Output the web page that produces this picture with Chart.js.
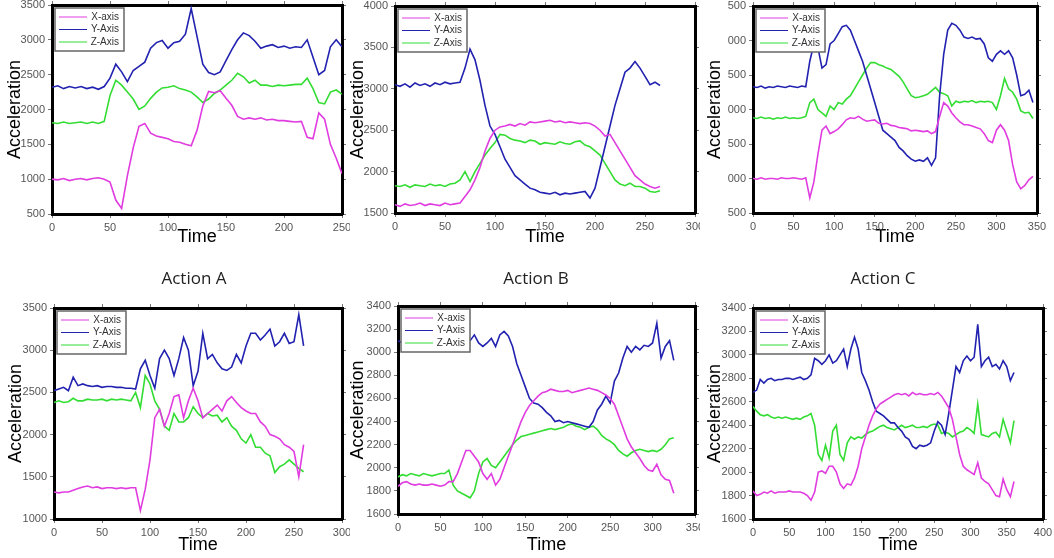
<!DOCTYPE html>
<html>
<head>
<meta charset="utf-8">
<script src="https://cdn.jsdelivr.net/npm/chart.js@4.4.1/dist/chart.umd.min.js"></script>
<style>
	body { margin: 0; background: #fff; width: 1054px; height: 558px; position: relative; overflow: hidden; }
	.panel { position: absolute; }
	.cap { position: absolute; font: 17px "Open Sans", sans-serif; color: #222; transform: translateX(-50%); white-space: nowrap; }
</style>
</head>
<body>
<div class="panel" id="p1"><canvas></canvas></div>
<div class="panel" id="p2"><canvas></canvas></div>
<div class="panel" id="p3"><canvas></canvas></div>
<div class="panel" id="p4"><canvas></canvas></div>
<div class="panel" id="p5"><canvas></canvas></div>
<div class="panel" id="p6"><canvas></canvas></div>
<div class="cap" style="left:194px;top:266px">Action A</div>
<div class="cap" style="left:536px;top:266px">Action B</div>
<div class="cap" style="left:883px;top:266px">Action C</div>
<script>
const TIME = [0,5,10,15,20,25,30,35,40,45,50,55,60,65,70,75,80,85,90,95,100,105,110,115,120,125,130,135,140,145,150,155,160,165,170,175,180,185,190,195,200,205,210,215,220,225,230,235,240,245,250,255,260,265,270,275,280,285,290,295,300,305,310,315,320,325,330,335,340,345,350,355,360];
const LABELS = ["X-axis", "Y-Axis", "Z-Axis"];
const COLORS = ["#e03ce0", "#2222b0", "#33dd33"];

// top row
const topA_X = [1000,990,1010,980,1000,1010,990,1010,1020,1000,960,700,580,1050,1450,1760,1800,1660,1620,1600,1580,1540,1530,1500,1480,1700,2050,2260,2240,2270,2160,2060,1900,1860,1880,1860,1880,1850,1860,1840,1840,1830,1820,1830,1600,1580,1950,1860,1500,1300,1080];
const topA_Y = [2320,2340,2300,2330,2310,2330,2300,2320,2290,2330,2450,2650,2540,2400,2560,2620,2680,2880,2960,2990,2880,2960,2980,3080,3450,3050,2650,2530,2500,2540,2700,2860,3000,3100,3060,2980,2880,2910,2930,2890,2910,2880,2900,2890,3000,2750,2500,2560,2900,3000,2900];
const topA_Z = [1810,1800,1820,1800,1810,1820,1800,1820,1800,1830,2200,2420,2350,2250,2150,2000,2050,2160,2250,2310,2320,2340,2300,2280,2250,2180,2100,2150,2230,2280,2350,2420,2520,2470,2380,2420,2350,2350,2330,2350,2340,2350,2360,2360,2450,2300,2100,2080,2250,2280,2220];

const topB_X = [1600,1580,1610,1590,1600,1620,1590,1610,1600,1590,1620,1600,1610,1620,1700,1780,1900,2050,2250,2400,2500,2540,2550,2570,2550,2580,2560,2600,2590,2600,2610,2620,2600,2610,2590,2600,2590,2580,2590,2580,2550,2500,2430,2450,2350,2250,2150,2050,1950,1900,1850,1820,1800,1820];
const topB_Y = [3050,3030,3060,3020,3070,3040,3060,3030,3070,3050,3080,3060,3070,3080,3250,3480,3350,3100,2800,2550,2450,2300,2150,2050,1950,1900,1850,1800,1780,1750,1740,1730,1750,1720,1740,1730,1740,1750,1760,1680,1800,2050,2300,2550,2800,3000,3200,3250,3330,3250,3150,3050,3080,3040];
const topB_Z = [1830,1820,1840,1810,1840,1830,1820,1850,1830,1840,1820,1850,1860,1900,2000,1880,2000,2100,2200,2280,2350,2450,2440,2400,2380,2370,2350,2380,2370,2330,2350,2340,2330,2360,2340,2330,2360,2370,2320,2300,2250,2200,2100,2000,1900,1850,1830,1860,1820,1820,1800,1760,1750,1770];

const topC_X = [1000,990,1010,990,1000,1000,990,1010,1000,1000,1010,1000,990,1010,720,950,1350,1700,1760,1650,1680,1720,1780,1850,1880,1870,1900,1860,1830,1840,1850,1800,1790,1800,1770,1760,1740,1730,1720,1690,1700,1690,1680,1690,1650,1680,1900,2100,2050,1950,1880,1820,1780,1780,1760,1740,1720,1650,1550,1520,1700,1780,1700,1550,1200,950,850,900,980,1030];
const topC_Y = [2330,2320,2340,2310,2330,2320,2340,2330,2320,2340,2330,2320,2340,2330,2700,2950,2900,2600,2650,2950,3000,3100,3200,3220,3150,3000,2850,2700,2500,2300,2100,1900,1700,1650,1600,1550,1450,1400,1330,1280,1250,1270,1250,1300,1190,1300,2200,2800,3150,3250,3220,3150,3050,3030,3050,3020,3030,2950,2750,2700,2800,2850,2800,2850,2750,2500,2200,2220,2280,2100];
const topC_Z = [1880,1870,1890,1870,1880,1860,1880,1870,1890,1870,1880,1870,1880,1900,2100,2150,2000,1950,1900,2050,2000,2100,2080,2150,2200,2300,2400,2500,2600,2680,2680,2650,2630,2600,2580,2530,2480,2400,2300,2200,2170,2180,2200,2220,2270,2320,2250,2230,2200,2050,2120,2100,2120,2110,2130,2100,2120,2110,2120,2100,2000,2200,2450,2300,2250,2150,1980,1950,1960,1870];

// bottom row
const botA_X = [1320,1310,1320,1320,1340,1360,1380,1390,1370,1380,1360,1370,1370,1360,1370,1360,1370,1370,1100,1350,1700,2200,2300,2100,2250,2450,2470,2200,2400,2550,2400,2200,2250,2300,2350,2280,2400,2450,2380,2320,2280,2250,2250,2150,2100,2000,1980,1950,1880,1850,1800,1500,1880];
const botA_Y = [2520,2540,2560,2520,2680,2580,2600,2580,2570,2580,2560,2570,2570,2560,2560,2550,2550,2540,2780,2880,2700,2550,2900,3000,2900,2700,2900,3150,3000,2580,2750,3200,2900,2950,2850,2780,2760,2800,2950,2850,3050,3200,3200,3120,3180,3250,3050,3100,3200,3080,3100,3420,3050];
const botA_Z = [2380,2400,2380,2390,2430,2400,2400,2420,2410,2410,2420,2400,2420,2410,2420,2410,2400,2500,2320,2700,2600,2400,2300,2100,2050,2250,2150,2150,2200,2330,2250,2200,2250,2220,2230,2150,2200,2100,2050,1950,1900,2000,1850,1850,1780,1750,1550,1620,1650,1700,1650,1600,1560];

const botB_X = [1840,1870,1880,1860,1850,1860,1850,1850,1860,1850,1840,1850,1880,1880,1950,2050,2150,2150,2100,2050,1950,1900,1950,1850,1900,2000,2100,2200,2300,2400,2480,2540,2580,2620,2650,2660,2680,2670,2660,2660,2670,2650,2660,2670,2680,2690,2680,2670,2650,2630,2600,2550,2450,2350,2250,2180,2130,2080,2020,1980,1970,2030,1940,1900,1890,1780];
const botB_Y = [3100,3080,3110,3090,3100,3080,3110,3090,3100,3080,3090,3100,3080,3090,3080,3100,3090,3100,3150,3080,3050,3080,3120,3050,3150,3180,3140,3050,2900,2800,2700,2600,2560,2550,2520,2480,2450,2400,2410,2390,2400,2390,2380,2370,2360,2350,2400,2500,2550,2620,2560,2750,2820,2950,3050,3000,3050,3020,3060,3050,3080,3250,2950,3050,3100,2930];
const botB_Z = [1920,1940,1930,1950,1940,1930,1950,1940,1930,1940,1950,1950,1980,1850,1800,1780,1760,1740,1800,1950,2050,2080,2020,2000,2050,2100,2150,2200,2240,2270,2280,2290,2300,2310,2320,2330,2340,2330,2340,2350,2370,2380,2360,2350,2330,2350,2360,2330,2280,2250,2230,2200,2150,2120,2100,2130,2150,2160,2150,2140,2150,2140,2160,2200,2250,2260];

const botC_X = [1840,1800,1810,1830,1820,1840,1820,1830,1830,1830,1840,1830,1830,1830,1820,1800,1760,1830,2000,2010,1990,2050,2050,2000,1900,1860,1900,1890,1950,2050,2200,2300,2400,2480,2540,2580,2600,2620,2640,2660,2670,2660,2670,2650,2680,2660,2670,2660,2660,2670,2660,2680,2650,2600,2550,2450,2300,2150,2050,2020,2000,1980,2080,1950,1920,1900,1850,1800,1790,1940,1850,1790,1920];
const botC_Y = [2680,2700,2790,2760,2790,2800,2780,2790,2790,2800,2800,2790,2800,2810,2790,2800,2830,2970,2950,2920,2950,3000,2930,2950,3000,3050,2900,3050,3150,3050,2850,2780,2700,2600,2520,2500,2480,2450,2420,2420,2380,2350,2300,2280,2220,2200,2230,2220,2230,2250,2350,2430,2400,2320,2500,2700,2900,2850,2950,2990,2950,2980,3260,2900,2950,2980,2900,2920,2880,2950,2900,2780,2850];
const botC_Z = [2560,2520,2490,2480,2490,2470,2460,2470,2460,2470,2460,2450,2460,2450,2470,2480,2500,2400,2150,2100,2230,2120,2350,2400,2150,2100,2250,2300,2280,2300,2290,2320,2340,2350,2370,2390,2400,2380,2370,2360,2380,2400,2380,2390,2400,2380,2380,2390,2380,2400,2410,2400,2330,2340,2330,2300,2320,2340,2350,2380,2360,2330,2580,2320,2310,2300,2330,2340,2300,2450,2350,2250,2440];

const FONT = '"Liberation Sans", Arial, sans-serif';

// legend box drawn inside the top-left corner of the plot
const boxLegend = {
	id: "boxLegend",
	afterDatasetsDraw(chart) {
		const { ctx, chartArea } = chart;
		const x = chartArea.left + 3, y = chartArea.top + 3, w = 69, h = 43;
		ctx.save();
		ctx.fillStyle = "#fff";
		ctx.fillRect(x, y, w, h);
		ctx.strokeStyle = "#666";
		ctx.lineWidth = 1.5;
		ctx.strokeRect(x, y, w, h);
		ctx.font = "10px " + FONT;
		ctx.textAlign = "right";
		ctx.textBaseline = "middle";
		chart.data.datasets.forEach((ds, i) => {
			const ly = y + 9 + i * 12.5;
			ctx.strokeStyle = ds.borderColor;
			ctx.lineWidth = 1;
			ctx.beginPath();
			ctx.moveTo(x + 4, ly);
			ctx.lineTo(x + 32, ly);
			ctx.stroke();
			ctx.fillStyle = "#333";
			ctx.fillText(ds.label, x + w - 5, ly);
		});
		ctx.restore();
	},
};

function Setup(id, box, plot, xMax, yMin, yMax, yStep, series, yTitleX, shortLabels) {
	const el = document.getElementById(id);
	el.style.left = box.l + "px";
	el.style.top = box.t + "px";
	el.style.width = box.w + "px";
	el.style.height = box.h + "px";

	const yWidth = plot.L - box.l;
	const xHeight = box.t + box.h - plot.B;
	const padTop = plot.T - box.t - 4;
	const padRight = box.l + box.w - plot.R - 4;
	const yTitlePad = Math.max(0, yTitleX - box.l - 10.8);

	const frame = { display: true, color: "#000", width: 3 };
	const grid = { drawOnChartArea: false, drawTicks: true, tickLength: 4, color: "#777", lineWidth: 1 };
	const tickFont = { family: FONT, size: 11 };

	new Chart(el.querySelector("canvas"), {
		type: "line",
		data: {
			datasets: series.map((vals, i) => ({
				label: LABELS[i],
				data: vals.map((v, k) => ({ x: TIME[k], y: v })),
				borderColor: COLORS[i],
				borderWidth: 1.6,
				pointRadius: 0,
				tension: 0,
				fill: false,
			})),
		},
		options: {
			responsive: true,
			maintainAspectRatio: false,
			animation: false,
			layout: { padding: { left: 0, top: padTop, right: padRight, bottom: 0 } },
			plugins: { legend: { display: false }, tooltip: { enabled: false } },
			scales: {
				x: {
					type: "linear", position: "bottom", min: 0, max: xMax,
					border: frame, grid: grid,
					ticks: { stepSize: 50, color: "#555", font: tickFont, maxRotation: 0, padding: 3 },
					title: { display: true, text: "Time", color: "#000", font: { family: FONT, size: 18 }, padding: { top: 0, bottom: 2 } },
					afterFit(s) { s.height = xHeight; s.paddingLeft = 0; s.paddingRight = 0; },
				},
				x2: {
					type: "linear", position: "top", min: 0, max: xMax,
					border: frame, grid: grid,
					ticks: { stepSize: 50, display: false },
					afterFit(s) { s.height = 4; s.paddingLeft = 0; s.paddingRight = 0; },
				},
				y: {
					type: "linear", position: "left", min: yMin, max: yMax,
					border: frame, grid: grid,
					ticks: {
						stepSize: yStep, color: "#555", font: tickFont, padding: 3,
						callback: (v) => (shortLabels ? String(v).slice(-3) : String(v)),
					},
					title: { display: true, text: "Acceleration", color: "#000", font: { family: FONT, size: 18 }, padding: { top: yTitlePad, bottom: 0 } },
					afterFit(s) { s.width = yWidth; s.paddingTop = 0; s.paddingBottom = 0; },
				},
				y2: {
					type: "linear", position: "right", min: yMin, max: yMax,
					border: frame, grid: grid,
					ticks: { stepSize: yStep, display: false },
					afterFit(s) { s.width = 4; s.paddingTop = 0; s.paddingBottom = 0; },
				},
			},
		},
		plugins: [boxLegend],
	});
}

Setup("p1", { l: 0, t: 0, w: 350, h: 250 }, { L: 52, T: 5, R: 342, B: 214 }, 250, 500, 3500, 500, [topA_X, topA_Y, topA_Z], 15, false);
Setup("p2", { l: 347, t: 0, w: 353, h: 250 }, { L: 395, T: 6, R: 695, B: 213 }, 300, 1500, 4000, 500, [topB_X, topB_Y, topB_Z], 358, false);
Setup("p3", { l: 700, t: 0, w: 354, h: 250 }, { L: 753, T: 6, R: 1037, B: 213 }, 350, 500, 3500, 500, [topC_X, topC_Y, topC_Z], 715, true);
Setup("p4", { l: 0, t: 262, w: 350, h: 296 }, { L: 54, T: 308, R: 342, B: 519 }, 300, 1000, 3500, 500, [botA_X, botA_Y, botA_Z], 16, false);
Setup("p5", { l: 347, t: 262, w: 353, h: 296 }, { L: 398, T: 306, R: 695, B: 514 }, 350, 1600, 3400, 200, [botB_X, botB_Y, botB_Z], 358, false);
Setup("p6", { l: 700, t: 262, w: 354, h: 296 }, { L: 753, T: 308, R: 1043, B: 519 }, 400, 1600, 3400, 200, [botC_X, botC_Y, botC_Z], 715, false);
</script>
</body>
</html>
